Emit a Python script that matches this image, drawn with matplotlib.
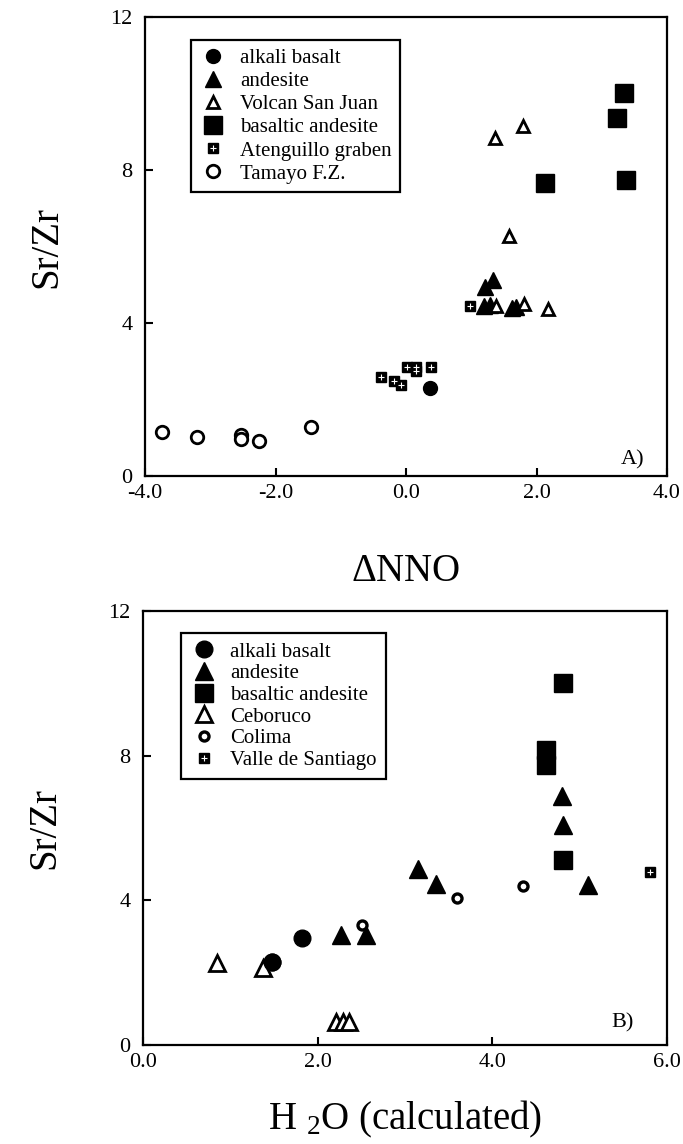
import matplotlib
matplotlib.use("Agg")
import matplotlib.pyplot as plt
from matplotlib.ticker import FormatStrFormatter

plt.rcParams["font.family"] = ["Liberation Serif", "DejaVu Serif"]
plt.rcParams["mathtext.fontset"] = "custom"
plt.rcParams["mathtext.rm"] = "Liberation Serif"
plt.rcParams["axes.unicode_minus"] = False

# Panel A: Sr/Zr vs delta NNO
alk_a_x = [0.36]
alk_a_y = [2.29]
and_a_x = [1.33, 1.21, 1.20, 1.29, 1.62, 1.69]
and_a_y = [5.12, 4.94, 4.45, 4.46, 4.40, 4.42]
vsj_x = [1.80, 1.36, 1.58, 1.38, 1.81, 2.18]
vsj_y = [9.16, 8.84, 6.29, 4.44, 4.49, 4.38]
ba_a_x = [3.34, 3.23, 2.13, 3.37]
ba_a_y = [10.01, 9.37, 7.66, 7.73]
aten_x = [-0.38, -0.19, -0.08, 0.01, 0.15, 0.16, 0.38, 0.98]
aten_y = [2.58, 2.48, 2.38, 2.84, 2.84, 2.74, 2.84, 4.44]
tam_x = [-3.74, -3.20, -2.53, -2.53, -2.25, -1.46]
tam_y = [1.16, 1.03, 1.07, 0.97, 0.91, 1.29]

# Panel B: Sr/Zr vs calculated H2O
alk_b_x = [1.48, 1.82]
alk_b_y = [2.30, 2.96]
and_b_x = [2.27, 2.55, 3.15, 3.35, 4.80, 4.81, 5.10]
and_b_y = [3.05, 3.05, 4.87, 4.46, 6.88, 6.09, 4.43]
ba_b_x = [4.81, 4.61, 4.61, 4.81]
ba_b_y = [10.0, 8.15, 7.75, 5.12]
ceb_x = [0.85, 1.37, 2.21, 2.29, 2.36]
ceb_y = [2.27, 2.13, 0.63, 0.63, 0.63]
col_x = [2.51, 3.60, 4.35]
col_y = [3.33, 4.07, 4.41]
vds_x = [5.80]
vds_y = [4.78]

xticks_a = [-4.0, -2.0, 0.0, 2.0, 4.0]
xticks_b = [0.0, 2.0, 4.0, 6.0]
yticks = [0, 4, 8, 12]

fig = plt.figure(figsize=(6.83, 11.44), dpi=100)
ax_a = fig.add_axes([0.2123, 0.5839, 0.7643, 0.4011])
ax_b = fig.add_axes([0.2094, 0.0865, 0.7672, 0.3794])


def style_axes(ax, xticks):
    ax.set_xticks(xticks)
    ax.xaxis.set_major_formatter(FormatStrFormatter("%.1f"))
    ax.set_yticks(yticks)
    ax.set_ylim(0, 12)
    for sp in ax.spines.values():
        sp.set_linewidth(1.6)
    ax.tick_params(direction="in", length=6, width=1.5, labelsize=16,
                   top=False, right=False)
    ax.tick_params(axis="x", pad=6)
    ax.tick_params(axis="y", pad=9)
    ax.set_ylabel("Sr/Zr", fontsize=28, labelpad=32)


# --- panel A ---
k = dict(linestyle="none", color="black")
h1, = ax_a.plot(alk_a_x, alk_a_y, marker="o", ms=10, **k)
h2, = ax_a.plot(and_a_x, and_a_y, marker="^", ms=12, **k)
h3, = ax_a.plot(vsj_x, vsj_y, marker="^", ms=9, mfc="white", mec="black", mew=2, **k)
h4, = ax_a.plot(ba_a_x, ba_a_y, marker="s", ms=13, **k)
h5a, = ax_a.plot(aten_x, aten_y, marker="s", ms=7, **k)
h5b, = ax_a.plot(aten_x, aten_y, marker="+", ms=4.5, mew=0.8, linestyle="none", color="white")
h6, = ax_a.plot(tam_x, tam_y, marker="o", ms=9, mfc="white", mec="black", mew=2, **k)

ax_a.set_xlim(-4, 4)
style_axes(ax_a, xticks_a)
ax_a.set_xlabel("\u0394NNO", fontsize=28, labelpad=36)
ax_a.text(0.935, 0.015, "A)", transform=ax_a.transAxes, fontsize=16,
          ha="center", va="bottom")
leg_a = ax_a.legend([h1, h2, h3, h4, (h5a, h5b), h6],
                    ["alkali basalt", "andesite", "Volcan San Juan",
                     "basaltic andesite", "Atenguillo graben", "Tamayo F.Z."],
                    loc="upper left", bbox_to_anchor=(0.088, 0.95),
                    fontsize=15, labelspacing=0.17, handlelength=1.3,
                    handletextpad=0.65, borderpad=0.4, borderaxespad=0,
                    fancybox=False, framealpha=1, edgecolor="black")
leg_a.get_frame().set_linewidth(1.6)

# --- panel B ---
g1, = ax_b.plot(alk_b_x, alk_b_y, marker="o", ms=12, **k)
g2, = ax_b.plot(and_b_x, and_b_y, marker="^", ms=13, **k)
g3, = ax_b.plot(ba_b_x, ba_b_y, marker="s", ms=13, **k)
g4, = ax_b.plot(ceb_x, ceb_y, marker="^", ms=12, mfc="white", mec="black", mew=2, **k)
g5, = ax_b.plot(col_x, col_y, marker="o", ms=6.5, mfc="white", mec="black", mew=2.4, **k)
g6a, = ax_b.plot(vds_x, vds_y, marker="s", ms=7, **k)
g6b, = ax_b.plot(vds_x, vds_y, marker="+", ms=4.5, mew=0.8, linestyle="none", color="white")
ax_b.plot(alk_b_x[:1], alk_b_y[:1], marker="o", ms=12, **k)

ax_b.set_xlim(0, 6)
style_axes(ax_b, xticks_b)
ax_b.set_xlabel(r"H $\mathregular{_2}$O (calculated)", fontsize=28, labelpad=19)
ax_b.text(0.915, 0.03, "B)", transform=ax_b.transAxes, fontsize=16,
          ha="center", va="bottom")
leg_b = ax_b.legend([g1, g2, g3, g4, g5, (g6a, g6b)],
                    ["alkali basalt", "andesite", "basaltic andesite",
                     "Ceboruco", "Colima", "Valle de Santiago"],
                    loc="upper left", bbox_to_anchor=(0.073, 0.95),
                    fontsize=15, labelspacing=0.1, handlelength=1.3,
                    handletextpad=0.6, borderpad=0.45, borderaxespad=0,
                    fancybox=False, framealpha=1, edgecolor="black")
leg_b.get_frame().set_linewidth(1.6)

fig.savefig("out.png", dpi=100)
